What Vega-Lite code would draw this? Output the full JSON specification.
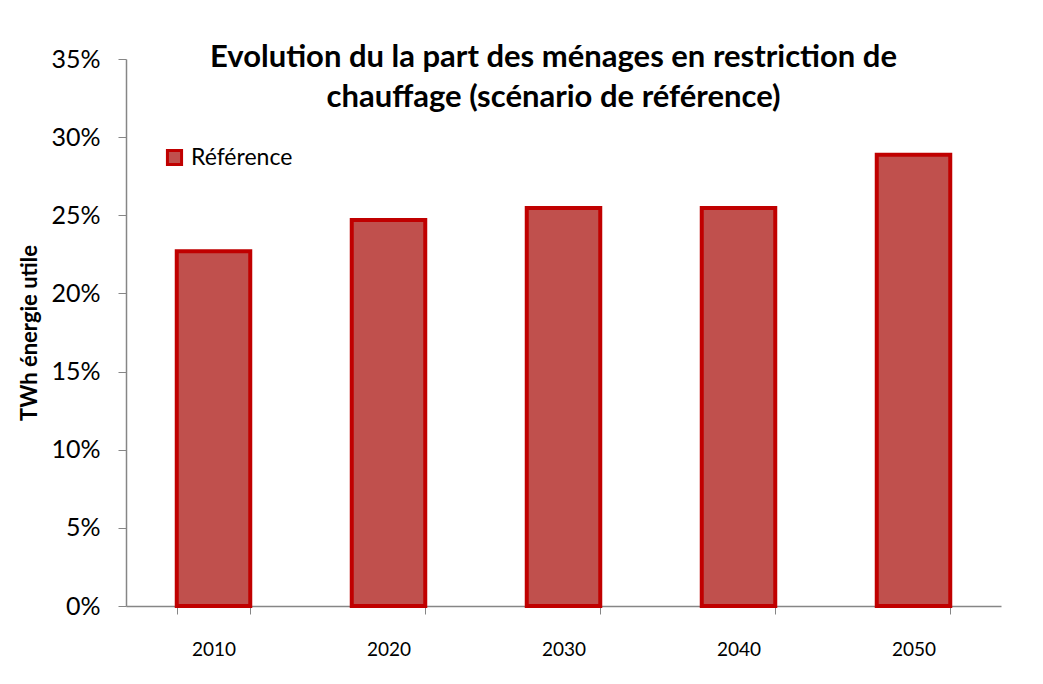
{
  "$schema": "https://vega.github.io/schema/vega-lite/v6.json",
  "width": 875,
  "height": 547,
  "autosize": {"type": "none"},
  "padding": {"left": 126, "top": 59, "right": 42, "bottom": 78},
  "background": "white",
  "title": {
    "text": ["Evolution du la part des ménages en restriction de", "chauffage (scénario de référence)"],
    "font": "Lato",
    "fontSize": 31,
    "fontWeight": "bold",
    "color": "#000000",
    "lineHeight": 40,
    "anchor": "middle",
    "dx": -10,
    "baseline": "top",
    "offset": -67
  },
  "data": {
    "values": [
      {"year": "2010", "serie": "Référence", "value": 0.227},
      {"year": "2020", "serie": "Référence", "value": 0.247},
      {"year": "2030", "serie": "Référence", "value": 0.2547},
      {"year": "2040", "serie": "Référence", "value": 0.2547},
      {"year": "2050", "serie": "Référence", "value": 0.2888}
    ]
  },
  "mark": {"type": "bar", "stroke": "#C00000", "strokeWidth": 4},
  "encoding": {
    "x": {
      "field": "year",
      "type": "ordinal",
      "scale": {"paddingInner": 0.58, "paddingOuter": 0.29},
      "axis": {
        "title": null,
        "labelAngle": 0,
        "labelFont": "Lato",
        "labelFontSize": 19,
        "labelColor": "#000000",
        "labelPadding": 26,
        "tickBand": "extent",
        "tickSize": 8,
        "tickColor": "#868686",
        "domainColor": "#868686",
        "domainWidth": 1.5,
        "grid": false
      }
    },
    "y": {
      "field": "value",
      "type": "quantitative",
      "scale": {"domain": [0, 0.35]},
      "axis": {
        "title": "TWh énergie utile",
        "titleFont": "Lato",
        "titleFontSize": 22,
        "titleFontWeight": "bold",
        "titleColor": "#000000",
        "titlePadding": 9,
        "format": ".0%",
        "values": [0, 0.05, 0.1, 0.15, 0.2, 0.25, 0.3, 0.35],
        "labelFont": "Lato",
        "labelFontSize": 25,
        "labelColor": "#000000",
        "labelPadding": 18,
        "tickSize": 8,
        "tickColor": "#868686",
        "domainColor": "#868686",
        "domainWidth": 1.5,
        "grid": false
      }
    },
    "fill": {
      "field": "serie",
      "type": "nominal",
      "scale": {"range": ["#C0504D"]},
      "legend": {
        "title": null,
        "orient": "none",
        "legendX": 37,
        "legendY": 87,
        "symbolType": "square",
        "symbolSize": 200,
        "symbolStrokeColor": "#C00000",
        "symbolStrokeWidth": 3,
        "symbolFillColor": "#C0504D",
        "labelFont": "Lato",
        "labelFontSize": 23,
        "labelColor": "#000000",
        "labelOffset": 5
      }
    }
  },
  "config": {"view": {"stroke": null}}
}
